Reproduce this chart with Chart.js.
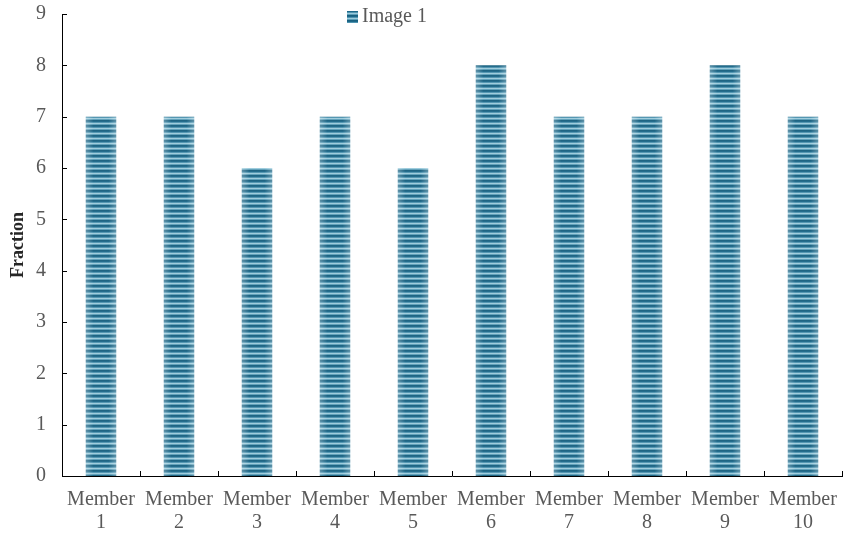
<!DOCTYPE html>
<html>
<head>
<meta charset="utf-8">
<script src="https://cdn.jsdelivr.net/npm/chart.js@4"></script>
<style>
  html, body { margin: 0; padding: 0; background: #fff; }
  #wrap { width: 852px; height: 539px; }
</style>
</head>
<body>
<div id="wrap"><canvas id="fractionChart"></canvas></div>
<script>
const members = [
  ["Member", "1"], ["Member", "2"], ["Member", "3"], ["Member", "4"], ["Member", "5"],
  ["Member", "6"], ["Member", "7"], ["Member", "8"], ["Member", "9"], ["Member", "10"]
];
const image1 = [7, 7, 6, 7, 6, 8, 7, 7, 8, 7];
const yTicks = [0, 1, 2, 3, 4, 5, 6, 7, 8, 9];

const serif = "'Liberation Serif', 'Times New Roman', serif";

// striped fill for the bars
function stripePattern() {
  const c = document.createElement("canvas");
  c.width = 4;
  c.height = 5;
  const g = c.getContext("2d");
  const rows = ["#18607f", "#1d6889", "#4f94b0", "#9ccbdc", "#5d9fb9"];
  rows.forEach(function (col, i) {
    g.fillStyle = col;
    g.fillRect(0, i, 4, 1);
  });
  return g.createPattern(c, "repeat");
}
const stripes = stripePattern();

// light sheen toward the bar edges
const barSheen = {
  id: "barSheen",
  afterDatasetsDraw(chart) {
    const ctx = chart.ctx;
    ctx.save();
    chart.getDatasetMeta(0).data.forEach(function (bar) {
      const left = bar.x - bar.width / 2;
      const grad = ctx.createLinearGradient(left, 0, left + bar.width, 0);
      grad.addColorStop(0, "rgba(255,255,255,0.3)");
      grad.addColorStop(0.25, "rgba(255,255,255,0.03)");
      grad.addColorStop(0.75, "rgba(255,255,255,0.03)");
      grad.addColorStop(1, "rgba(255,255,255,0.3)");
      ctx.fillStyle = grad;
      ctx.fillRect(left, bar.y, bar.width, bar.base - bar.y);
    });
    ctx.restore();
  }
};

// tick marks pointing into the plot area
const innerTicks = {
  id: "innerTicks",
  afterDraw(chart) {
    const ctx = chart.ctx;
    const y = chart.scales.y;
    const area = chart.chartArea;
    ctx.save();
    ctx.strokeStyle = "#000";
    ctx.lineWidth = 1;
    ctx.beginPath();
    yTicks.forEach(function (v) {
      const py = Math.round(y.getPixelForValue(v)) + 0.5;
      ctx.moveTo(area.left, py);
      ctx.lineTo(area.left + 5, py);
    });
    const step = (area.right - area.left) / members.length;
    for (let i = 0; i <= members.length; i++) {
      const px = Math.round(area.left + i * step) + 0.5;
      ctx.moveTo(px, area.bottom);
      ctx.lineTo(px, area.bottom - 5);
    }
    ctx.stroke();
    ctx.restore();
  }
};

// small legend sitting inside the plot
const inlineLegend = {
  id: "inlineLegend",
  afterDraw(chart) {
    const ctx = chart.ctx;
    const label = chart.data.datasets[0].label;
    const bx = 347, by = 11;
    ctx.save();
    ctx.fillStyle = stripes;
    ctx.fillRect(bx, by, 11, 12);
    ctx.font = "20px " + serif;
    ctx.fillStyle = "#595959";
    ctx.textBaseline = "middle";
    ctx.fillText(label, bx + 15, by + 6);
    ctx.restore();
  }
};

const ctx = document.getElementById("fractionChart").getContext("2d");

new Chart(ctx, {
  type: "bar",
  data: {
    labels: members,
    datasets: [
      {
        label: "Image 1",
        data: image1,
        backgroundColor: stripes,
        borderWidth: 0,
        barPercentage: 0.39,
        categoryPercentage: 1
      }
    ]
  },
  options: {
    responsive: true,
    maintainAspectRatio: false,
    animation: false,
    layout: { padding: { top: 14, right: 10, left: 8, bottom: 0 } },
    plugins: {
      legend: { display: false },
      tooltip: { enabled: false }
    },
    scales: {
      x: {
        afterFit: function (scale) { scale.height = 63; },
        grid: { display: false, drawTicks: false, tickLength: 0 },
        border: { color: "#000", width: 1 },
        ticks: {
          color: "#595959",
          font: { family: serif, size: 20, lineHeight: 1.15 },
          maxRotation: 0,
          autoSkip: false,
          padding: 12
        }
      },
      y: {
        min: 0,
        max: 9,
        afterFit: function (scale) {
          scale.width = 54;
          scale.paddingTop = 0;
          scale.paddingBottom = 0;
        },
        afterBuildTicks: function (scale) {
          scale.ticks = yTicks.map(function (v) { return { value: v }; });
        },
        grid: { display: false, drawTicks: false, tickLength: 0 },
        border: { color: "#000", width: 1 },
        ticks: {
          color: "#595959",
          font: { family: serif, size: 20 },
          padding: 16
        },
        title: {
          display: true,
          text: "Fraction",
          color: "#262626",
          font: { family: serif, size: 18, weight: "bold" },
          padding: { top: 0, bottom: 0 }
        }
      }
    }
  },
  plugins: [barSheen, innerTicks, inlineLegend]
});
</script>
</body>
</html>
